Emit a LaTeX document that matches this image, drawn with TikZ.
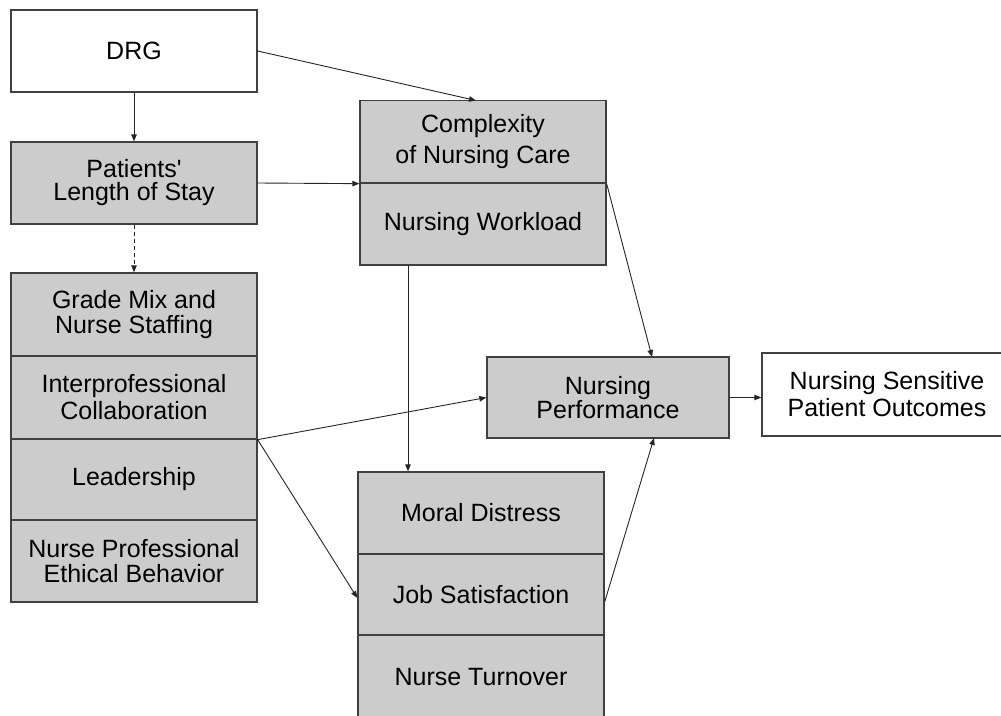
\documentclass[tikz,border=0pt]{standalone}
\usepackage{fontspec}
\setmainfont{Liberation Sans}
\usetikzlibrary{arrows.meta}
\definecolor{boxgray}{RGB}{204,204,204}
\definecolor{edge}{RGB}{64,64,64}
\begin{document}
\begin{tikzpicture}[x=1pt,y=-1pt,
  box/.style={draw=edge, line width=1.3pt, fill=boxgray, minimum width=246pt, inner sep=0pt, align=center, text=black},
  wbox/.style={box, fill=white},
  ls/.style={font={\fontsize{25}{#1}\selectfont}},
  conn/.style={draw=black!85, line width=0.9pt, -{Triangle[length=7pt,width=5.5pt]}}]
\useasboundingbox (0,0) rectangle (1001,715);
\fill[white] (0,0) rectangle (1001,715);
% left column
\node[wbox, minimum height=82pt, ls=24] (drg) at (134,51) {DRG};
\node[box, minimum height=82pt, ls=23] (los) at (134,183) {Patients\textquotesingle\\Length of Stay};
\node[box, minimum height=83pt, ls=25] (grade) at (134,314.5) {Grade Mix and\\Nurse Staffing};
\node[box, minimum height=83pt, ls=27] (inter) at (134,397.5) {Interprofessional\\Collaboration};
\node[box, minimum height=81pt, ls=24] (lead) at (134,479.5) {Leadership};
\node[box, minimum height=82pt, ls=25] (prof) at (134,561) {Nurse Professional\\Ethical Behavior};
% middle top
\node[box, minimum height=82.5pt, ls=31] (comp) at (483,141.75) {Complexity\\of Nursing Care};
\node[box, minimum height=82pt, ls=24] (work) at (483,224) {Nursing Workload};
% middle bottom
\node[box, minimum height=82pt, ls=24] (moral) at (481,513) {Moral Distress};
\node[box, minimum height=81pt, ls=24] (job) at (481,594.5) {Job Satisfaction};
\node[box, minimum height=84pt, ls=24] (turn) at (481,677) {Nurse Turnover};
% right
\node[box, minimum width=242pt, minimum height=81pt, ls=24] (perf) at (608,397.5) {Nursing\\Performance};
\node[wbox, minimum width=250pt, minimum height=83pt, ls=27] (out) at (887,394.5) {Nursing Sensitive\\Patient Outcomes};
% coordinates on edges
\coordinate (drgR) at (drg.east |- 0,51);
\coordinate (compT) at (476,100.5);
\coordinate (compBR) at (comp.south east);
\coordinate (leftJ) at (inter.south east);
\coordinate (perfT) at (652,357);
\coordinate (perfB) at (654,438);
\coordinate (jobR) at (job.east |- 0,602);
\coordinate (jobL) at (job.west |- 0,598);
% connectors
\draw[conn] (drg.south) -- (los.north);
\draw[conn, dashed, dash pattern=on 4pt off 3pt] (los.south) -- (grade.north);
\draw[conn] (drgR) -- (compT);
\draw[conn] (los.east) -- (comp.south west);
\draw[conn] (compBR) -- (perfT);
\draw[conn] (work.south -| 408,0) -- (moral.north -| 408,0);
\draw[conn] (leftJ) -- (perf.west);
\draw[conn] (leftJ) -- (jobL);
\draw[conn] (jobR) -- (perfB);
\draw[conn] (perf.east) -- (out.west |- perf.east);
\end{tikzpicture}
\end{document}
